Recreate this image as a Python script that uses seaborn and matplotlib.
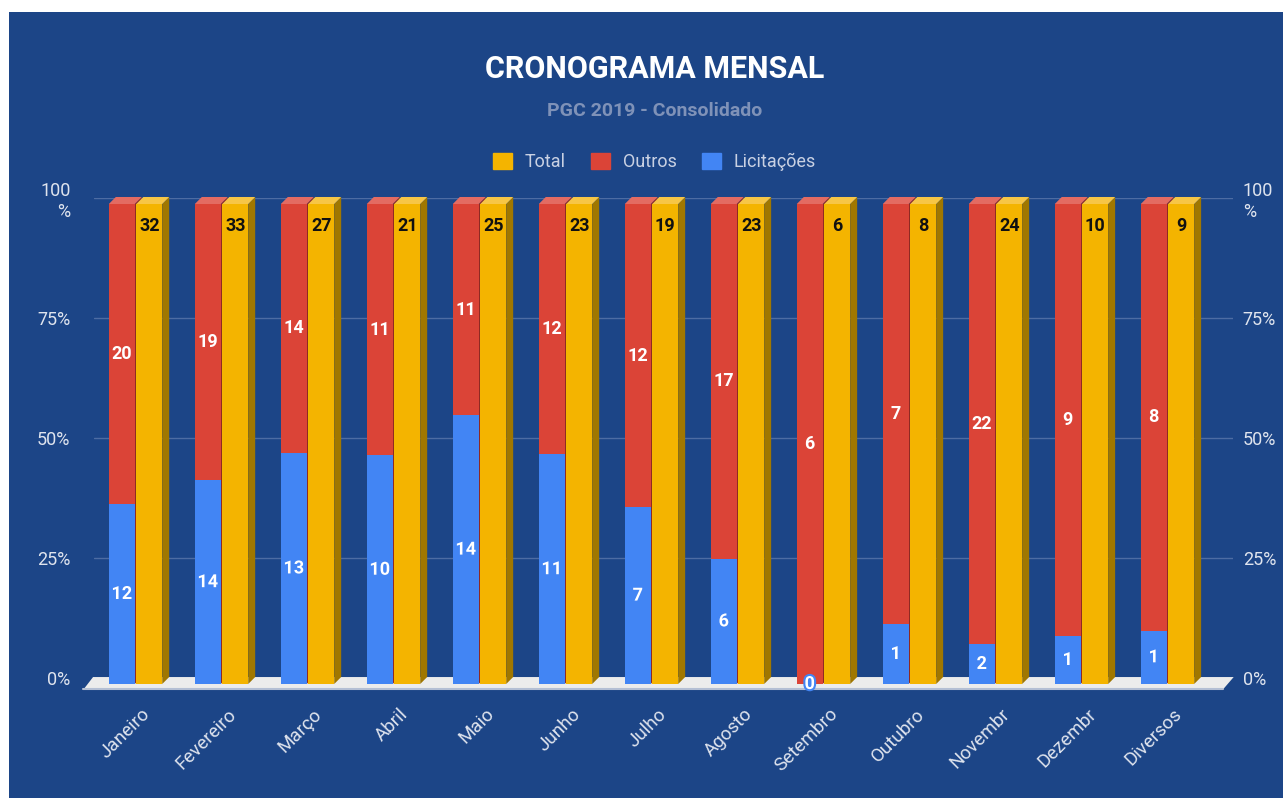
import matplotlib
matplotlib.use('Agg')
import matplotlib.pyplot as plt
import matplotlib.patheffects as pe
from matplotlib.patches import Polygon, Rectangle, Patch
from matplotlib.transforms import ScaledTranslation
import seaborn as sns
import pandas as pd

MESES = ['Janeiro', 'Fevereiro', 'Março', 'Abril', 'Maio', 'Junho', 'Julho',
         'Agosto', 'Setembro', 'Outubro', 'Novembr', 'Dezembr', 'Diversos']
LICITACOES = [12, 14, 13, 10, 14, 11, 7, 6, 0, 1, 2, 1, 1]
OUTROS = [20, 19, 14, 11, 11, 12, 12, 17, 6, 7, 22, 9, 8]
TOTAL = [32, 33, 27, 21, 25, 23, 19, 23, 6, 8, 24, 10, 9]
Y_TICKS = [0, 25, 50, 75, 100]
Y_LABELS = ['0%', '25%', '50%', '75%', '100\n%']

FUNDO = '#1c4587'
AZUL = '#4285f4'
VERMELHO = '#db4437'
AMARELO = '#f4b400'
TOPO = {VERMELHO: '#e36b62', AMARELO: '#f7c646'}
LADO = {VERMELHO: '#8f2a22', AMARELO: '#a07700'}
TEXTO = '#dfe4ee'
GRADE = '#4d6ca3'

BASE = -1.25       # front face sits a bit below the back plane (3D look)
DX, DY = 0.081, 1.46  # depth offset of the 3D faces

sns.set_theme(style='dark')
plt.rcParams['font.family'] = ['Roboto', 'DejaVu Sans']

# percentages of each stack (left bar: Licitações + Outros, right bar: Total)
pct_lic = [l / (l + o) * 100 if l + o else 0 for l, o in zip(LICITACOES, OUTROS)]
df_base = pd.DataFrame({
    'mes': MESES * 2,
    'barra': ['Pilha'] * len(MESES) + ['Total'] * len(MESES),
    'pct': [100.0] * len(MESES) + [100.0 if t else 0 for t in TOTAL],
})
df_lic = pd.DataFrame({
    'mes': MESES * 2,
    'barra': ['Pilha'] * len(MESES) + ['Total'] * len(MESES),
    'pct': pct_lic + [0.0] * len(MESES),
})

fig = plt.figure(figsize=(12.83, 7.98), dpi=100, facecolor='white')
fig.patches.append(Rectangle((9 / 1283, 0), 1, 1 - 12 / 798, transform=fig.transFigure,
                             facecolor=FUNDO, edgecolor='none', zorder=-10))
ax = fig.add_axes([94 / 1283, 1 - 678 / 798, (1233 - 94) / 1283, 480 / 798])
ax.set_facecolor('none')

sns.barplot(data=df_base, x='mes', y='pct', hue='barra', hue_order=['Pilha', 'Total'],
            palette=[VERMELHO, AMARELO], width=0.64, gap=0.06, saturation=1,
            legend=False, ax=ax, zorder=3)
base_patches = list(ax.patches)
sns.barplot(data=df_lic, x='mes', y='pct', hue='barra', hue_order=['Pilha', 'Total'],
            palette=[AZUL, AMARELO], width=0.64, gap=0.06, saturation=1,
            legend=False, ax=ax, zorder=4)
lic_patches = [p for p in ax.patches if p not in base_patches]

for p in base_patches + lic_patches:
    p.set_y(BASE)
    p.set_edgecolor('none')
    p.set_clip_on(False)

for p in base_patches:
    h = p.get_height()
    if h <= 0:
        continue
    x0, w = p.get_x(), p.get_width()
    top = BASE + h
    cor = VERMELHO if abs(p.get_facecolor()[0] - 0.859) < 0.02 else AMARELO
    ax.add_patch(Polygon([(x0 + w, BASE), (x0 + w + DX, BASE + DY), (x0 + w + DX, top + DY),
                          (x0 + w, top)], closed=True, facecolor=LADO[cor], edgecolor='none',
                         zorder=2, clip_on=False))
    ax.add_patch(Polygon([(x0, top), (x0 + DX, top + DY), (x0 + w + DX, top + DY),
                          (x0 + w, top)], closed=True, facecolor=TOPO[cor], edgecolor='none',
                         zorder=2, clip_on=False))

# floor
ax.add_patch(Polygon([(-0.61, -2.5), (-0.494, 0.2), (12.77, 0.2), (12.64, -2.5)], closed=True,
                     facecolor='#ececec', edgecolor='none', zorder=1, clip_on=False))
ax.plot([-0.61, 12.64], [-2.3, -2.3], color='#b4bfd4', lw=1.5, zorder=1, clip_on=False)

# value labels
bold = dict(fontsize=13, fontweight='bold', ha='center', va='center', zorder=6)
halo = [pe.withStroke(linewidth=3, foreground=AZUL)]
for p in base_patches:
    cx = p.get_x() + p.get_width() / 2
    i = int(round(cx))
    if cx < i:
        lic_h = pct_lic[i]
        ax.text(cx, BASE + lic_h / 2, str(LICITACOES[i]), color='white',
                path_effects=halo, **bold)
        ax.text(cx, BASE + lic_h + (100 - lic_h) / 2, str(OUTROS[i]), color='white', **bold)
    else:
        ax.text(cx, BASE + 100 - 4.6, str(TOTAL[i]), color='#111111', **bold)

ax.set_xlim(-0.483, 12.762)
ax.set_ylim(0, 100)
ax.set_yticks(Y_TICKS)
ax.set_yticklabels(Y_LABELS)
ax.set_xlabel('')
ax.set_ylabel('')
ax.yaxis.grid(True, color=GRADE, lw=1)
ax.xaxis.grid(False)
ax.set_axisbelow(True)
for s in ax.spines.values():
    s.set_visible(False)
ax.tick_params(axis='y', length=0, pad=17, labelsize=13, labelcolor=TEXTO)
ax.tick_params(axis='x', length=0, pad=24, labelsize=13.5, labelcolor=TEXTO)
for lab in ax.get_xticklabels():
    lab.set_rotation(45)
    lab.set_ha('right')
    lab.set_va('center')
    lab.set_rotation_mode('anchor')
    lab.set_transform(lab.get_transform() + ScaledTranslation(0.12, 0, fig.dpi_scale_trans))

ax2 = ax.twinx()
ax2.set_ylim(0, 100)
ax2.set_yticks(Y_TICKS)
ax2.set_yticklabels(Y_LABELS)
ax2.grid(False)
ax2.set_facecolor('none')
for s in ax2.spines.values():
    s.set_visible(False)
ax2.tick_params(axis='y', length=0, pad=7, labelsize=13, labelcolor=TEXTO)

fig.text(0.51, 1 - 69 / 798, 'CRONOGRAMA MENSAL', ha='center', va='center',
         fontsize=22, fontweight='bold', color='white')
fig.text(0.51, 1 - 111 / 798, 'PGC 2019 - Consolidado', ha='center', va='center',
         fontsize=14, fontweight='bold', color='#7f92b8')

handles = [Patch(facecolor=c, edgecolor=c, label=n)
           for c, n in [(AMARELO, 'Total'), (VERMELHO, 'Outros'), (AZUL, 'Licitações')]]
leg = fig.legend(handles=handles, loc='center', bbox_to_anchor=(0.51, 1 - 162 / 798), ncol=3,
                 frameon=False, fontsize=13, handlelength=1.05, handleheight=1.05,
                 handletextpad=0.7, columnspacing=1.4)
for t in leg.get_texts():
    t.set_color('#c9d1e3')

fig.savefig('out.png', dpi=100, facecolor='white')
